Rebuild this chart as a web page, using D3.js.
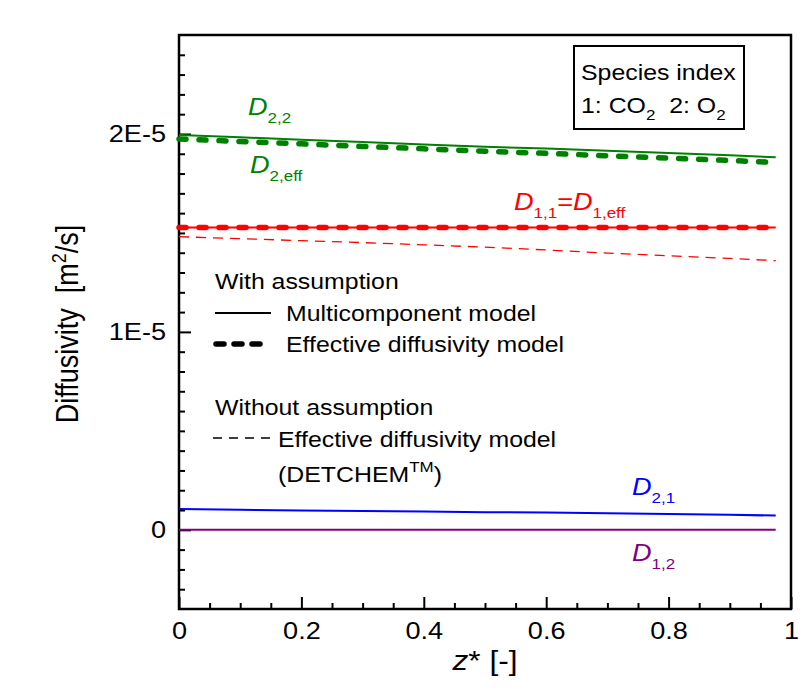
<!DOCTYPE html>
<html>
<head>
<meta charset="utf-8">
<script src="https://cdn.jsdelivr.net/npm/d3@7"></script>
<style>
  body { margin: 0; background: #fff; }
  svg { display: block; }
  text { font-family: "Liberation Sans", Arial, Helvetica, sans-serif; white-space: pre; }
</style>
</head>
<body>
<svg id="chart" width="812" height="696"></svg>
<script>
// Dimensionless axial position z*
const zPos = [0, 0.1, 0.2, 0.3, 0.4, 0.5, 0.6, 0.7, 0.8, 0.9, 0.975];

// Diffusivities along the channel, in units of 1E-5 m^2/s
const D22          = [1.995, 1.983, 1.971, 1.959, 1.947, 1.936, 1.926, 1.915, 1.904, 1.892, 1.882];
const D2eff        = [1.975, 1.962, 1.950, 1.937, 1.925, 1.913, 1.902, 1.890, 1.878, 1.866, 1.856];
const D11          = [1.527, 1.527, 1.527, 1.527, 1.527, 1.527, 1.527, 1.527, 1.527, 1.527, 1.527];
const D1eff        = [1.527, 1.527, 1.527, 1.527, 1.527, 1.527, 1.527, 1.527, 1.527, 1.527, 1.527];
const D1effDetchem = [1.481, 1.471, 1.461, 1.451, 1.440, 1.428, 1.414, 1.398, 1.385, 1.371, 1.360];
const D21          = [0.105, 0.101, 0.098, 0.095, 0.092, 0.089, 0.087, 0.084, 0.080, 0.076, 0.072];
const D12          = [0, 0, 0, 0, 0, 0, 0, 0, 0, 0, 0];

const UNIT = 1e-5;

// Tick values and labels
const xTicks = [0, 0.2, 0.4, 0.6, 0.8, 1];
const xTickLabels = ["0", "0.2", "0.4", "0.6", "0.8", "1"];
const yTicks = [0, 1e-5, 2e-5];
const yTickLabels = ["0", "1E-5", "2E-5"];

// ---- layout ----
const frame = { left: 179, right: 791, top: 35, bottom: 609 };
const SX = 1.13; // horizontal widening of the lettering

const svg = d3.select("#chart");
svg.append("rect").attr("width", 812).attr("height", 696).attr("fill", "#fff");

const x = d3.scaleLinear().domain([0, 1]).range([frame.left, frame.right]);
const y = d3.scaleLinear().domain([-0.4e-5, 2.5e-5]).range([frame.bottom, frame.top]);

// Text made of styled runs (italic, sub/superscripts)
function richText(parent, px, py, parts, opts = {}) {
  const rot = opts.rotate ? ` rotate(${opts.rotate}) scale(1,${SX})` : ` scale(${SX},1)`;
  const t = parent.append("text")
    .attr("transform", `translate(${px},${py})` + rot)
    .attr("text-anchor", opts.anchor || "start")
    .attr("fill", opts.color || "#000")
    .style("font-size", (opts.size || 22) + "px");
  let shift = 0;
  parts.forEach(p => {
    const s = t.append("tspan").text(p.t);
    const target = p.dy || 0;
    s.attr("dy", target - shift);
    shift = target;
    if (p.size) s.style("font-size", p.size + "px");
    if (p.italic) s.style("font-style", "italic");
  });
  return t;
}

function widenTickText(g) {
  g.selectAll(".tick text").attr("transform", function () {
    const tx = +this.getAttribute("x") || 0;
    return `translate(${tx},0) scale(${SX},1) translate(${-tx},0)`;
  });
}

// ---- axes (ticks point inward) ----
const yMinor = d3.range(-3, 25).filter(i => i % 10 !== 0).map(i => i * 1e-6);
const xMinor = d3.range(1, 20).filter(i => i % 4 !== 0).map(i => i * 0.05);

svg.append("g")
  .attr("transform", `translate(${frame.left},0)`)
  .call(d3.axisLeft(y).tickValues(yMinor).tickSize(-6).tickFormat(""))
  .call(g => g.select(".domain").remove())
  .call(g => g.selectAll("line").attr("stroke", "#000").attr("stroke-width", 2));

const yAxis = svg.append("g")
  .attr("transform", `translate(${frame.left},0)`)
  .call(d3.axisLeft(y).tickValues(yTicks).tickSize(-12).tickPadding(13)
    .tickFormat((d, i) => yTickLabels[i]))
  .call(g => g.select(".domain").remove())
  .call(g => g.selectAll("line").attr("stroke", "#000").attr("stroke-width", 2));
yAxis.attr("font-size", 24).attr("font-family", null);
yAxis.selectAll("text").attr("fill", "#000");
widenTickText(yAxis);

svg.append("g")
  .attr("transform", `translate(0,${frame.bottom})`)
  .call(d3.axisBottom(x).tickValues(xMinor).tickSize(-6).tickFormat(""))
  .call(g => g.select(".domain").remove())
  .call(g => g.selectAll("line").attr("stroke", "#000").attr("stroke-width", 2));

const xAxis = svg.append("g")
  .attr("transform", `translate(0,${frame.bottom})`)
  .call(d3.axisBottom(x).tickValues(xTicks).tickSize(-12).tickPadding(13)
    .tickFormat((d, i) => xTickLabels[i]))
  .call(g => g.select(".domain").remove())
  .call(g => g.selectAll("line").attr("stroke", "#000").attr("stroke-width", 2));
xAxis.attr("font-size", 24).attr("font-family", null);
xAxis.selectAll("text").attr("fill", "#000");
widenTickText(xAxis);

// Plot frame
svg.append("rect")
  .attr("x", frame.left).attr("y", frame.top)
  .attr("width", frame.right - frame.left).attr("height", frame.bottom - frame.top)
  .attr("fill", "none").attr("stroke", "#000").attr("stroke-width", 2.5);

// ---- curves ----
const line = d3.line().x((d, i) => x(zPos[i])).y(d => y(d * UNIT));

const curves = [
  { data: D12,          color: "#800080", width: 2 },
  { data: D21,          color: "#0000ff", width: 2 },
  { data: D1effDetchem, color: "#ff0000", width: 1.3, dash: "10,7" },
  { data: D11,          color: "#ff0000", width: 2 },
  { data: D22,          color: "#008000", width: 2 },
  { data: D1eff,        color: "#ff0000", width: 5.5, dash: "7,13", cap: "round" },
  { data: D2eff,        color: "#008000", width: 5.5, dash: "7,13", cap: "round" }
];

svg.append("g").selectAll("path").data(curves).join("path")
  .attr("d", c => line(c.data))
  .attr("fill", "none")
  .attr("stroke", c => c.color)
  .attr("stroke-width", c => c.width)
  .attr("stroke-linecap", c => c.cap || "butt")
  .attr("stroke-dasharray", c => c.dash || null);

// ---- curve labels ----
richText(svg, 248, 115, [{ t: "D", italic: true }, { t: "2,2", size: 15, dy: 8 }], { color: "#008000", size: 24 });
richText(svg, 250, 173, [{ t: "D", italic: true }, { t: "2,eff", size: 15, dy: 8 }], { color: "#008000", size: 24 });
richText(svg, 514, 210, [
  { t: "D", italic: true }, { t: "1,1", size: 15, dy: 8 },
  { t: "=" }, { t: "D", italic: true }, { t: "1,eff", size: 15, dy: 8 }
], { color: "#ff0000", size: 24 });
richText(svg, 632, 495, [{ t: "D", italic: true }, { t: "2,1", size: 15, dy: 8 }], { color: "#0000ff", size: 24 });
richText(svg, 632, 561, [{ t: "D", italic: true }, { t: "1,2", size: 15, dy: 8 }], { color: "#800080", size: 24 });

// ---- species box ----
svg.append("rect")
  .attr("x", 574).attr("y", 46).attr("width", 170).attr("height", 83)
  .attr("fill", "#fff").attr("stroke", "#000").attr("stroke-width", 2);
richText(svg, 581, 80, [{ t: "Species index" }]);
richText(svg, 581, 113, [
  { t: "1: CO" }, { t: "2", size: 15, dy: 7 }, { t: "  2: O" }, { t: "2", size: 15, dy: 7 }
]);

// ---- line-style key ----
const key = svg.append("g");
richText(key, 215, 289, [{ t: "With assumption" }]);
key.append("line").attr("x1", 215).attr("x2", 271).attr("y1", 313).attr("y2", 313)
  .attr("stroke", "#000").attr("stroke-width", 2);
richText(key, 286, 321, [{ t: "Multicomponent model" }]);
key.append("line").attr("x1", 216).attr("x2", 264).attr("y1", 344).attr("y2", 344)
  .attr("stroke", "#000").attr("stroke-width", 5.5).attr("stroke-dasharray", "8,10")
  .attr("stroke-linecap", "round");
richText(key, 286, 352, [{ t: "Effective diffusivity model" }]);
richText(key, 215, 415, [{ t: "Without assumption" }]);
key.append("line").attr("x1", 213).attr("x2", 271).attr("y1", 438).attr("y2", 438)
  .attr("stroke", "#000").attr("stroke-width", 1.3).attr("stroke-dasharray", "9,7");
richText(key, 278, 447, [{ t: "Effective diffusivity model" }]);
richText(key, 278, 482, [{ t: "(DETCHEM" }, { t: "TM", size: 15, dy: -10 }, { t: ")" }]);

// ---- axis titles ----
richText(svg, (frame.left + frame.right) / 2, 670,
  [{ t: "z", italic: true }, { t: "* [-]" }], { anchor: "middle", size: 28 });
richText(svg, 78, 324,
  [{ t: "Diffusivity  [m" }, { t: "2", size: 18, dy: -11 }, { t: "/s]" }],
  { anchor: "middle", size: 27, rotate: -90 });
</script>
</body>
</html>
